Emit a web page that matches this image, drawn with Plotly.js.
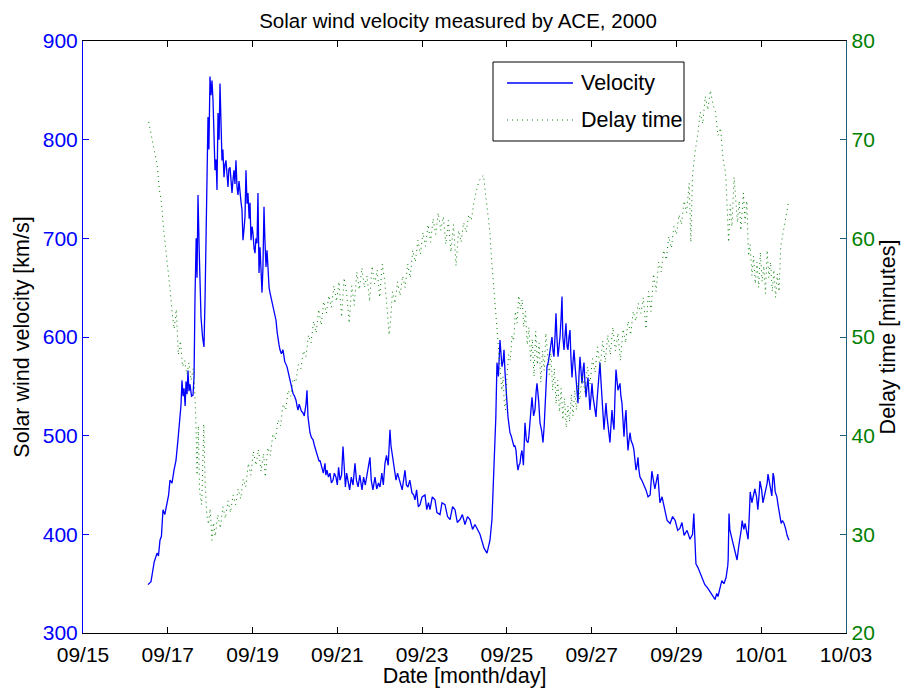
<!DOCTYPE html>
<html>
<head>
<meta charset="utf-8">
<script src="https://cdn.plot.ly/plotly-3.0.1.min.js"></script>
<style>
  html, body { margin: 0; padding: 0; background: #ffffff; }
  #chart { width: 904px; height: 688px; }
</style>
</head>
<body>
<div id="chart"></div>
<script>
// ---- Data (days after 2000-09-15 00:00 UTC, value) ----
const velocityReadings = [
[1.533,349],[1.604,352],[1.68,372],[1.746,381],[1.78,378],[1.816,394],[1.85,398],[1.887,425],[1.93,420],[1.982,430],
[2.02,440],[2.052,455],[2.10,452],[2.147,465],[2.194,475],[2.241,496],[2.288,516],[2.312,531],[2.335,556],[2.36,540],
[2.383,548],[2.41,530],[2.430,555],[2.455,542],[2.477,566],[2.50,545],[2.524,552],[2.56,540],[2.595,541],[2.62,560],
[2.642,640],[2.67,700],[2.69,660],[2.713,744],[2.74,690],[2.76,640],[2.784,620],[2.82,600],[2.854,590],[2.88,640],
[2.925,752],[2.949,823],[2.97,790],[2.996,864],[3.02,845],[3.043,860],[3.067,840],[3.090,813],[3.114,769],[3.14,780],
[3.161,749],[3.185,827],[3.21,800],[3.232,857],[3.255,797],[3.279,779],[3.30,790],[3.326,762],[3.35,775],[3.373,779],
[3.397,765],[3.421,752],[3.44,770],[3.468,772],[3.49,760],[3.515,746],[3.54,760],[3.562,769],[3.585,755],[3.609,779],
[3.633,752],[3.657,744],[3.68,758],[3.704,742],[3.73,736],[3.751,729],[3.774,698],[3.80,710],[3.822,722],[3.845,769],
[3.87,735],[3.892,746],[3.92,720],[3.940,736],[3.963,698],[3.99,712],[4.010,705],[4.035,690],[4.058,685],[4.08,700],
[4.105,695],[4.128,746],[4.14,700],[4.152,665],[4.176,691],[4.199,665],[4.223,645],[4.245,670],[4.270,732],[4.29,700],
[4.317,671],[4.341,688],[4.364,668],[4.39,650],[4.411,645],[4.435,640],[4.459,637],[4.48,630],[4.506,624],[4.53,620],
[4.553,617],[4.58,605],[4.600,597],[4.625,592],[4.647,587],[4.68,583],[4.718,587],[4.76,575],[4.812,570],[4.85,562],
[4.883,556],[4.92,548],[4.954,543],[4.99,540],[5.025,536],[5.05,530],[5.072,526],[5.10,532],[5.119,530],[5.15,525],
[5.190,523],[5.22,520],[5.261,532],[5.284,546],[5.308,519],[5.33,510],[5.355,503],[5.39,498],[5.426,496],[5.46,490],
[5.497,485],[5.52,480],[5.544,478],[5.57,474],[5.591,475],[5.615,470],[5.638,468],[5.67,462],[5.709,472],[5.73,460],
[5.756,465],[5.79,458],[5.827,462],[5.86,452],[5.898,455],[5.93,462],[5.968,458],[6.00,450],[6.03,468],[6.063,455],
[6.10,460],[6.134,489],[6.16,470],[6.19,448],[6.22,462],[6.252,452],[6.29,445],[6.33,458],[6.37,450],[6.417,472],
[6.45,455],[6.49,448],[6.53,460],[6.582,445],[6.62,458],[6.66,450],[6.70,462],[6.770,478],[6.80,455],[6.84,445],
[6.888,458],[6.93,446],[6.97,452],[7.006,448],[7.05,462],[7.085,450],[7.124,472],[7.16,480],[7.20,470],[7.242,506],
[7.265,490],[7.289,483],[7.33,468],[7.384,455],[7.42,462],[7.478,452],[7.53,445],[7.596,465],[7.63,450],[7.667,448],
[7.71,455],[7.761,442],[7.80,440],[7.832,435],[7.87,445],[7.91,428],[7.950,430],[8.00,438],[8.068,440],[8.11,425],
[8.15,432],[8.186,425],[8.24,438],[8.304,435],[8.35,422],[8.422,420],[8.47,432],[8.540,430],[8.60,418],[8.658,415],
[8.72,428],[8.776,425],[8.83,412],[8.894,415],[8.95,420],[9.012,410],[9.07,418],[9.129,415],[9.19,405],[9.247,410],
[9.30,405],[9.365,400],[9.42,392],[9.460,386],[9.531,381],[9.57,388],[9.601,394],[9.648,415],[9.67,440],[9.696,455],
[9.719,489],[9.74,520],[9.766,574],[9.80,560],[9.837,597],[9.86,580],[9.884,570],[9.91,575],[9.932,587],[9.955,565],
[9.979,553],[10.00,535],[10.026,519],[10.05,510],[10.073,503],[10.10,500],[10.120,496],[10.14,492],[10.167,489],[10.19,490],
[10.215,485],[10.24,472],[10.262,465],[10.285,470],[10.309,472],[10.33,480],[10.356,485],[10.39,470],[10.427,513],[10.46,495],
[10.498,493],[10.52,500],[10.545,513],[10.57,525],[10.592,539],[10.63,520],[10.663,526],[10.69,545],[10.710,553],[10.75,535],
[10.781,513],[10.82,505],[10.852,493],[10.88,510],[10.899,526],[10.92,550],[10.946,570],[10.98,575],[11.017,587],[11.04,590],
[11.064,600],[11.09,585],[11.111,580],[11.135,600],[11.158,624],[11.18,600],[11.206,580],[11.23,590],[11.253,600],[11.28,620],
[11.300,641],[11.32,600],[11.347,587],[11.37,600],[11.394,614],[11.42,590],[11.441,587],[11.465,600],[11.489,607],[11.51,580],
[11.536,559],[11.56,575],[11.583,587],[11.61,570],[11.630,559],[11.655,545],[11.677,533],[11.70,560],[11.724,580],[11.75,565],
[11.772,553],[11.80,568],[11.819,574],[11.84,555],[11.866,539],[11.89,550],[11.913,559],[11.94,540],[11.960,526],[11.985,540],
[12.008,553],[12.03,540],[12.055,533],[12.08,525],[12.102,519],[12.125,535],[12.149,546],[12.17,560],[12.196,574],[12.22,555],
[12.243,539],[12.27,520],[12.291,506],[12.315,520],[12.338,533],[12.36,520],[12.385,509],[12.41,500],[12.432,493],[12.455,510],
[12.479,526],[12.50,515],[12.527,506],[12.55,540],[12.574,567],[12.60,555],[12.621,546],[12.645,550],[12.668,553],[12.69,540],
[12.715,533],[12.74,515],[12.763,499],[12.785,515],[12.810,526],[12.83,505],[12.857,485],[12.88,495],[12.904,503],[12.93,495],
[12.951,493],[12.975,490],[12.998,485],[13.02,475],[13.046,465],[13.07,470],[13.093,478],[13.115,465],[13.140,458],[13.18,455],
[13.211,452],[13.25,448],[13.281,445],[13.33,438],[13.38,440],[13.42,464],[13.49,446],[13.56,461],[13.61,432],[13.66,438],
[13.71,429],[13.78,414],[13.85,411],[13.91,418],[13.97,414],[14.03,404],[14.08,406],[14.13,412],[14.18,399],[14.25,404],
[14.32,395],[14.38,400],[14.41,421],[14.44,385],[14.46,370],[14.51,366],[14.56,360],[14.62,355],[14.67,349],[14.73,346],
[14.79,342],[14.85,338],[14.91,334],[14.95,340],[14.98,337],[15.03,346],[15.07,353],[15.12,350],[15.17,356],[15.21,368],
[15.22,374],[15.24,421],[15.26,405],[15.29,399],[15.33,392],[15.36,388],[15.40,380],[15.43,374],[15.47,388],[15.50,395],
[15.53,405],[15.55,414],[15.59,405],[15.62,411],[15.66,402],[15.69,395],[15.72,420],[15.74,443],[15.78,432],[15.82,440],
[15.85,446],[15.89,438],[15.92,425],[15.95,440],[15.97,454],[16.01,445],[16.04,432],[16.08,440],[16.11,446],[16.14,452],
[16.16,461],[16.19,452],[16.21,446],[16.25,439],[16.28,462],[16.30,458],[16.33,443],[16.37,438],[16.40,429],[16.44,418],
[16.47,411],[16.50,414],[16.54,411],[16.58,405],[16.61,399],[16.655,394]
];

const delayReadings = [
[1.55,71.8],[1.60,70.6],[1.65,69.8],[1.70,68.2],[1.75,67.4],[1.80,65.0],[1.85,63.6],[1.90,61.0],[1.95,59.2],[2.00,57.0],
[2.05,55.0],[2.10,52.6],[2.15,50.8],[2.20,52.8],[2.25,48.2],[2.30,49.6],[2.35,47.0],[2.40,47.6],[2.45,46.2],[2.50,47.4],
[2.55,45.6],[2.60,46.8],[2.63,45.2],[2.66,41.8],[2.69,36.0],[2.72,41.0],[2.75,34.4],[2.80,33.0],[2.85,41.2],[2.88,35.2],
[2.92,32.0],[2.96,31.0],[3.00,32.6],[3.04,29.4],[3.08,31.2],[3.12,29.8],[3.18,32.0],[3.24,30.6],[3.30,32.8],[3.36,31.6],
[3.42,33.4],[3.48,32.2],[3.54,34.0],[3.60,33.0],[3.66,34.6],[3.72,33.6],[3.78,35.6],[3.84,34.8],[3.90,37.2],[3.96,36.0],
[4.02,38.4],[4.08,37.0],[4.14,38.6],[4.20,36.4],[4.26,38.2],[4.30,35.8],[4.36,38.8],[4.42,38.0],[4.48,40.2],[4.54,39.6],
[4.60,41.6],[4.66,41.0],[4.72,43.2],[4.78,42.6],[4.84,44.6],[4.90,44.0],[4.96,45.8],[5.02,45.4],[5.08,47.2],[5.14,46.8],
[5.20,48.6],[5.26,48.0],[5.32,50.2],[5.38,49.4],[5.44,51.6],[5.50,50.4],[5.56,52.8],[5.62,51.2],[5.68,53.6],[5.74,52.4],
[5.80,54.2],[5.86,53.0],[5.92,55.2],[5.98,53.6],[6.04,55.6],[6.10,52.0],[6.16,56.0],[6.22,54.4],[6.28,51.4],[6.34,55.2],
[6.40,53.2],[6.46,56.6],[6.52,54.8],[6.58,57.0],[6.64,55.0],[6.70,56.2],[6.76,53.6],[6.82,57.2],[6.88,55.4],[6.94,56.8],
[7.00,54.0],[7.06,57.4],[7.12,55.6],[7.18,52.6],[7.22,50.2],[7.26,51.8],[7.30,54.6],[7.36,53.4],[7.42,55.6],[7.48,54.2],
[7.54,56.2],[7.60,55.0],[7.66,57.4],[7.72,56.0],[7.78,58.8],[7.84,57.6],[7.90,59.8],[7.96,58.4],[8.02,60.6],[8.08,59.2],
[8.14,61.4],[8.20,59.6],[8.26,62.0],[8.32,60.4],[8.38,62.6],[8.44,60.8],[8.50,62.2],[8.56,59.4],[8.62,61.8],[8.68,58.6],
[8.74,61.4],[8.80,57.2],[8.86,60.8],[8.92,59.6],[8.98,61.6],[9.04,60.6],[9.10,62.4],[9.16,61.8],[9.22,63.6],[9.28,64.8],
[9.34,65.8],[9.40,66.2],[9.45,66.4],[9.50,64.4],[9.55,62.6],[9.60,60.6],[9.64,57.8],[9.68,55.6],[9.72,53.4],[9.76,50.8],
[9.80,48.4],[9.84,46.6],[9.88,44.6],[9.91,46.0],[9.94,43.2],[9.97,42.6],[10.00,46.0],[10.04,48.2],[10.08,47.6],[10.12,50.2],
[10.16,49.6],[10.20,52.6],[10.24,51.4],[10.28,54.2],[10.32,52.8],[10.36,53.8],[10.40,51.0],[10.44,52.6],[10.48,49.2],[10.52,51.0],
[10.56,47.6],[10.60,49.8],[10.64,46.0],[10.68,50.6],[10.72,47.2],[10.76,49.4],[10.80,45.4],[10.84,48.6],[10.88,46.6],[10.92,50.4],
[10.96,47.8],[11.00,46.2],[11.04,48.4],[11.08,44.6],[11.12,46.8],[11.16,43.2],[11.20,45.6],[11.24,42.4],[11.28,44.8],[11.32,41.6],
[11.36,43.8],[11.40,40.8],[11.44,43.0],[11.48,41.4],[11.52,44.2],[11.56,42.0],[11.60,44.6],[11.64,42.6],[11.68,45.4],[11.72,43.6],
[11.78,46.2],[11.84,44.4],[11.90,47.0],[11.96,45.2],[12.02,47.8],[12.08,46.4],[12.14,49.0],[12.20,46.8],[12.26,49.6],[12.32,47.4],
[12.38,50.2],[12.44,48.2],[12.50,51.0],[12.56,48.6],[12.62,50.4],[12.68,47.6],[12.74,50.8],[12.80,49.4],[12.86,51.6],[12.92,50.2],
[12.98,52.6],[13.04,51.6],[13.10,53.4],[13.16,52.4],[13.22,54.0],[13.28,50.8],[13.34,54.6],[13.40,52.6],[13.46,56.4],[13.52,54.6],
[13.58,57.6],[13.64,56.6],[13.70,58.8],[13.76,57.8],[13.82,60.2],[13.88,59.0],[13.94,61.2],[14.00,60.4],[14.06,62.4],[14.12,61.4],
[14.18,63.8],[14.24,62.6],[14.30,65.6],[14.34,59.6],[14.38,66.4],[14.44,68.8],[14.50,70.4],[14.56,72.8],[14.62,71.6],[14.68,74.4],
[14.74,73.0],[14.80,75.0],[14.86,73.6],[14.92,72.8],[14.98,70.4],[15.04,71.2],[15.10,68.0],[15.16,66.6],[15.20,62.8],[15.23,59.6],
[15.27,63.4],[15.31,61.2],[15.36,66.2],[15.40,64.0],[15.44,61.6],[15.48,63.8],[15.52,60.8],[15.58,64.6],[15.62,61.6],[15.66,63.8],
[15.70,58.2],[15.74,59.4],[15.78,56.2],[15.82,58.2],[15.86,55.4],[15.90,57.6],[15.94,55.0],[15.98,58.6],[16.02,55.6],[16.06,57.2],
[16.10,54.4],[16.14,58.8],[16.18,56.0],[16.22,57.6],[16.26,54.6],[16.30,56.8],[16.34,54.0],[16.38,56.4],[16.42,54.6],[16.46,59.2],
[16.50,60.2],[16.55,61.6],[16.60,62.6],[16.65,63.8]
];

const xTickLabels = ['09/15','09/17','09/19','09/21','09/23','09/25','09/27','09/29','10/01','10/03'];
const xTickDays = [0, 2, 4, 6, 8, 10, 12, 14, 16, 18];
const velocityTicks = [300, 400, 500, 600, 700, 800, 900];
const delayTicks = [20, 30, 40, 50, 60, 70, 80];
const seriesNames = ['Velocity', 'Delay time'];

// ---- Build ----
const BASE = Date.UTC(2000, 8, 15);
const DAY = 86400000;
const toDate = d => BASE + d * DAY;

const FONT = 'Liberation Sans, Arial, Helvetica, sans-serif';
const BLUE = '#0000ff';
const GREEN = '#008000';
const RIGHT_AXIS = '#1e5f78';
const DELAY_DASH = '1px,4px';

// plot area in pixels (for legend box placement in paper coordinates)
const PL = 83, PR = 846, PT = 41, PB = 633;
const px = x => (x - PL) / (PR - PL);
const py = y => (PB - y) / (PB - PT);

const traceVel = {
  x: velocityReadings.map(p => toDate(p[0])),
  y: velocityReadings.map(p => p[1]),
  type: 'scatter', mode: 'lines', name: seriesNames[0],
  line: { color: BLUE, width: 1.3 },
  yaxis: 'y', showlegend: false
};
const traceDelay = {
  x: delayReadings.map(p => toDate(p[0])),
  y: delayReadings.map(p => p[1]),
  type: 'scatter', mode: 'lines', name: seriesNames[1],
  line: { color: GREEN, width: 1, dash: DELAY_DASH },
  yaxis: 'y2', showlegend: false
};

const legendShapes = [
  { type: 'rect', xref: 'paper', yref: 'paper', x0: px(493), x1: px(684), y0: py(141), y1: py(62),
    fillcolor: '#ffffff', line: { color: '#000000', width: 1 }, layer: 'above' },
  { type: 'line', xref: 'paper', yref: 'paper', x0: px(507), x1: px(573), y0: py(83), y1: py(83),
    line: { color: BLUE, width: 1.3 }, layer: 'above' },
  { type: 'line', xref: 'paper', yref: 'paper', x0: px(507), x1: px(573), y0: py(120), y1: py(120),
    line: { color: GREEN, width: 1, dash: DELAY_DASH }, layer: 'above' }
];
const legendTexts = [
  { text: seriesNames[0], xref: 'paper', yref: 'paper', x: px(579), y: py(83), xanchor: 'left', yanchor: 'middle',
    showarrow: false, font: { family: FONT, size: 21.5, color: '#000000' } },
  { text: seriesNames[1], xref: 'paper', yref: 'paper', x: px(579), y: py(120), xanchor: 'left', yanchor: 'middle',
    showarrow: false, font: { family: FONT, size: 21.5, color: '#000000' } }
];

const layout = {
  width: 904, height: 688,
  margin: { l: 83, r: 58, t: 41, b: 55 },
  paper_bgcolor: '#ffffff', plot_bgcolor: '#ffffff',
  font: { family: FONT, size: 21, color: '#000000' },
  title: {
    text: 'Solar wind velocity measured by ACE, 2000',
    font: { family: FONT, size: 20.5, color: '#000000' },
    x: 0.4915, xref: 'paper', xanchor: 'center',
    y: 16, yref: 'container', yanchor: 'middle'
  },
  showlegend: false,
  shapes: legendShapes,
  annotations: legendTexts,
  xaxis: {
    type: 'date',
    range: [toDate(0), toDate(18)],
    tickvals: xTickDays.map(toDate),
    ticktext: xTickLabels,
    ticks: 'inside', ticklen: 6, tickcolor: '#000000', tickwidth: 1,
    ticklabelstandoff: 3,
    showline: true, linecolor: '#000000', linewidth: 1, mirror: 'ticks',
    showgrid: false, zeroline: false,
    tickfont: { family: FONT, size: 21, color: '#000000' },
    title: { text: 'Date [month/day]', font: { family: FONT, size: 21.5, color: '#000000' }, standoff: 2 }
  },
  yaxis: {
    range: [300, 900],
    tickvals: velocityTicks,
    ticks: 'inside', ticklen: 6, tickcolor: BLUE,
    showline: true, linecolor: BLUE, linewidth: 1,
    showgrid: false, zeroline: false,
    tickfont: { family: FONT, size: 21, color: BLUE },
    title: { text: 'Solar wind velocity [km/s]', font: { family: FONT, size: 21.5, color: '#000000' }, standoff: 7 }
  },
  yaxis2: {
    range: [20, 80],
    tickvals: delayTicks,
    overlaying: 'y', side: 'right', anchor: 'x',
    ticks: 'inside', ticklen: 6, tickcolor: RIGHT_AXIS,
    showline: true, linecolor: RIGHT_AXIS, linewidth: 1.3,
    showgrid: false, zeroline: false,
    tickfont: { family: FONT, size: 21, color: GREEN },
    title: { text: 'Delay time [minutes]', font: { family: FONT, size: 21.5, color: '#000000' }, standoff: 6 }
  }
};

Plotly.newPlot('chart', [traceVel, traceDelay], layout, { staticPlot: true, displayModeBar: false });
</script>
</body>
</html>
